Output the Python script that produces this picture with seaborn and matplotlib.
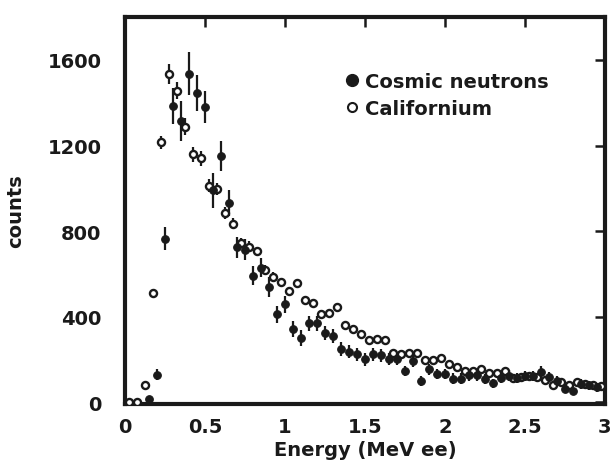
import numpy as np
import pandas as pd
import seaborn as sns
import matplotlib.pyplot as plt
from matplotlib.lines import Line2D

# Cosmic neutrons (filled), bins centred on 0.05 steps
cosmic_e = [0.15, 0.20, 0.25, 0.30, 0.35, 0.40, 0.45,
            0.50, 0.55, 0.60, 0.65, 0.70, 0.75, 0.80, 0.85, 0.90, 0.95,
            1.00, 1.05, 1.10, 1.15, 1.20, 1.25, 1.30, 1.35, 1.40, 1.45,
            1.50, 1.55, 1.60, 1.65, 1.70, 1.75, 1.80, 1.85, 1.90, 1.95,
            2.00, 2.05, 2.10, 2.15, 2.20, 2.25, 2.30, 2.35, 2.40, 2.45,
            2.50, 2.55, 2.60, 2.65, 2.70, 2.75, 2.80, 2.85, 2.90, 2.95]
cosmic_counts = [15, 130, 765, 1385, 1315, 1535, 1445,
                 1380, 990, 1150, 930, 724, 713, 591, 630, 539, 412,
                 458, 342, 299, 370, 370, 326, 310, 248, 237, 225,
                 201, 225, 220, 201, 201, 147, 193, 100, 154, 131,
                 131, 111, 111, 126, 126, 108, 89, 116, 125, 115,
                 122, 122, 142, 117, 100, 63, 51, 85, 80, 70]
cosmic_err = [10, 25, 55, 85, 95, 100, 85,
              75, 80, 70, 60, 50, 50, 45, 45, 45, 40,
              40, 38, 38, 35, 35, 33, 33, 32, 30, 30,
              30, 30, 30, 28, 28, 25, 27, 25, 25, 24,
              24, 24, 24, 25, 25, 23, 22, 24, 24, 24,
              24, 24, 30, 24, 22, 20, 18, 22, 20, 20]

# Californium (open), bins offset by half a step
cf_e = [0.025, 0.075, 0.125, 0.175, 0.225, 0.275, 0.325, 0.375, 0.425, 0.475,
        0.525, 0.575, 0.625, 0.675, 0.725, 0.775, 0.825, 0.875, 0.925, 0.975,
        1.025, 1.075, 1.125, 1.175, 1.225, 1.275, 1.325, 1.375, 1.425, 1.475,
        1.525, 1.575, 1.625, 1.675, 1.725, 1.775, 1.825, 1.875, 1.925, 1.975,
        2.025, 2.075, 2.125, 2.175, 2.225, 2.275, 2.325, 2.375, 2.425, 2.475,
        2.525, 2.575, 2.625, 2.675, 2.725, 2.775, 2.825, 2.875, 2.925, 2.975]
cf_counts = [0, 0, 83, 510, 1215, 1534, 1457, 1288, 1160, 1140,
             1012, 997, 883, 835, 744, 728, 705, 619, 588, 563,
             521, 557, 479, 466, 415, 419, 447, 360, 345, 321,
             292, 298, 291, 229, 225, 229, 229, 196, 196, 209,
             178, 167, 147, 147, 154, 139, 139, 147, 116, 120,
             125, 120, 103, 80, 94, 80, 94, 86, 80, 75]
cf_err = [0, 0, 10, 20, 30, 45, 40, 40, 35, 35,
          30, 30, 28, 25, 25, 25, 22, 22, 20, 20,
          20, 20, 18, 18, 16, 16, 16, 15, 15, 15,
          14, 14, 14, 12, 12, 12, 12, 11, 11, 11,
          11, 10, 10, 10, 10, 10, 10, 10, 9, 9,
          9, 9, 8, 8, 8, 8, 8, 8, 8, 8]

df = pd.concat([
    pd.DataFrame({'E': cosmic_e, 'counts': cosmic_counts, 'err': cosmic_err, 'src': 'Cosmic neutrons'}),
    pd.DataFrame({'E': cf_e, 'counts': cf_counts, 'err': cf_err, 'src': 'Californium'}),
])

sns.set_style('white')
plt.rcParams['font.family'] = ['DejaVu Sans']
plt.rcParams['font.weight'] = 'bold'
ink = '#1a1a1a'

fig = plt.figure(figsize=(6.11, 4.64), dpi=100)
ax = fig.add_axes([0.2045, 0.127, 0.7855, 0.834])

# error bars first, then markers on top
for src, g in df.groupby('src'):
    ax.errorbar(g['E'], g['counts'], yerr=g['err'], fmt='none',
                ecolor=ink, elinewidth=1.6, capsize=0, zorder=2)

sns.scatterplot(data=df[df.src == 'Californium'], x='E', y='counts', ax=ax,
                marker='o', s=26, facecolor='white', edgecolor=ink, linewidth=1.7,
                zorder=3, legend=False)
sns.scatterplot(data=df[df.src == 'Cosmic neutrons'], x='E', y='counts', ax=ax,
                marker='o', s=30, color=ink, edgecolor=ink, linewidth=0.8,
                zorder=4, legend=False)

ax.set_xlim(0, 3)
ax.set_ylim(-8, 1800)
ax.set_xticks([0, 0.5, 1, 1.5, 2, 2.5, 3])
ax.set_xticklabels(['0', '0.5', '1', '1.5', '2', '2.5', '3'])
ax.set_yticks([0, 400, 800, 1200, 1600])

for s in ax.spines.values():
    s.set_linewidth(3)
    s.set_color(ink)
ax.tick_params(direction='in', length=7, width=1.8, color=ink,
               top=True, right=True, labelsize=14, labelcolor=ink)
ax.tick_params(axis='x', pad=9)
ax.tick_params(axis='y', pad=17)

ax.set_xlabel('Energy (MeV ee)', fontsize=14, fontweight='bold', color=ink, labelpad=3)
ax.set_ylabel('counts', fontsize=14, fontweight='bold', color=ink, labelpad=16)

handles = [
    Line2D([], [], marker='o', ls='none', ms=8.5, color=ink, mfc=ink),
    Line2D([], [], marker='o', ls='none', ms=6.5, color=ink, mfc='white', mew=1.5),
]
ax.legend(handles, ['Cosmic neutrons', 'Californium'], loc='upper left',
          bbox_to_anchor=(0.457, 0.858), frameon=False, fontsize=14,
          handlelength=0.8, handletextpad=0.25, labelspacing=0.42,
          borderpad=0, borderaxespad=0, labelcolor=ink)

plt.savefig('out.png', dpi=100)
